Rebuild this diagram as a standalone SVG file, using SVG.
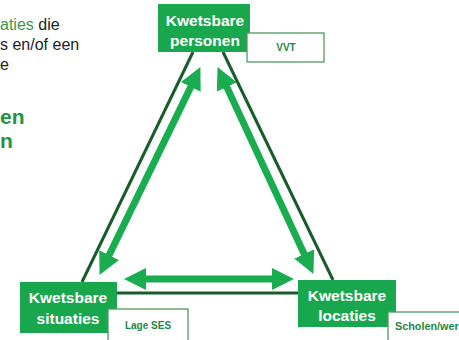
<svg xmlns="http://www.w3.org/2000/svg" width="459" height="340" viewBox="0 0 459 340">
<defs>
<style>
.box{fill:#19a74e}
.lbl{fill:#fff;font-family:"Liberation Sans",Arial,sans-serif;font-weight:bold;font-size:15.5px;text-anchor:middle}
.tag{fill:#fff;stroke:#4f9a5e;stroke-width:1.3}
.tagt{fill:#1d8a42;font-family:"Liberation Sans",Arial,sans-serif;font-weight:bold;font-size:10px}
.dark{stroke:#185c2b;stroke-width:3;fill:none}
.arr{stroke:#1aad50;stroke-width:7;fill:none;marker-start:url(#ah);marker-end:url(#ah)}
.body{font-family:"Liberation Sans",Arial,sans-serif;font-size:16px;fill:#222}
.big{font-family:"Liberation Sans",Arial,sans-serif;font-size:21px;font-weight:bold;fill:#1f9444}
</style>
<marker id="ah" markerUnits="userSpaceOnUse" markerWidth="22" markerHeight="22" viewBox="0 0 22 22" refX="6" refY="11" orient="auto-start-reverse">
<path d="M0,0 L22,11 L0,22 z" fill="#1aad50"/>
</marker>
</defs>
<g id="intro-text">
<text class="body" x="0" y="30"><tspan fill="#3a9a4a">aties</tspan> die</text>
<text class="body" x="0" y="50">s en/of een</text>
<text class="body" x="0" y="70">e</text>
<text class="big" x="0" y="124">en</text>
<text class="big" x="0" y="148">n</text>
</g>
<g id="connectors">
<line class="dark" x1="82" y1="282" x2="193" y2="52"/>
<line class="dark" x1="223" y1="52" x2="333" y2="280"/>
<line class="dark" x1="117" y1="293" x2="298" y2="293"/>
<line class="arr" x1="106.5" y1="260.5" x2="193.4" y2="81.5"/>
<line class="arr" x1="224.3" y1="81.6" x2="306.7" y2="259.4"/>
<line class="arr" x1="140" y1="279" x2="278" y2="279"/>
</g>
<g id="node-personen">
<rect class="box" x="158" y="4" width="92" height="48"/>
<text class="lbl" x="205" y="26">Kwetsbare</text>
<text class="lbl" x="205" y="46">personen</text>
</g>
<g id="tag-vvt">
<rect class="tag" x="247" y="33" width="77" height="29"/>
<text class="tagt" x="286" y="51" text-anchor="middle">VVT</text>
</g>
<g id="node-situaties">
<rect class="box" x="20" y="282" width="97" height="51"/>
<text class="lbl" x="68" y="303">Kwetsbare</text>
<text class="lbl" x="68" y="324">situaties</text>
</g>
<g id="tag-ses">
<rect class="tag" x="108" y="309" width="80" height="40"/>
<text class="tagt" x="148" y="329" text-anchor="middle">Lage SES</text>
</g>
<g id="node-locaties">
<rect class="box" x="298" y="280" width="98" height="47"/>
<text class="lbl" x="347" y="301">Kwetsbare</text>
<text class="lbl" x="347" y="321">locaties</text>
</g>
<g id="tag-scholen">
<rect class="tag" x="388" y="312" width="90" height="40"/>
<text class="tagt" x="395" y="330" style="font-size:10.8px">Scholen/wer</text>
</g>
</svg>
